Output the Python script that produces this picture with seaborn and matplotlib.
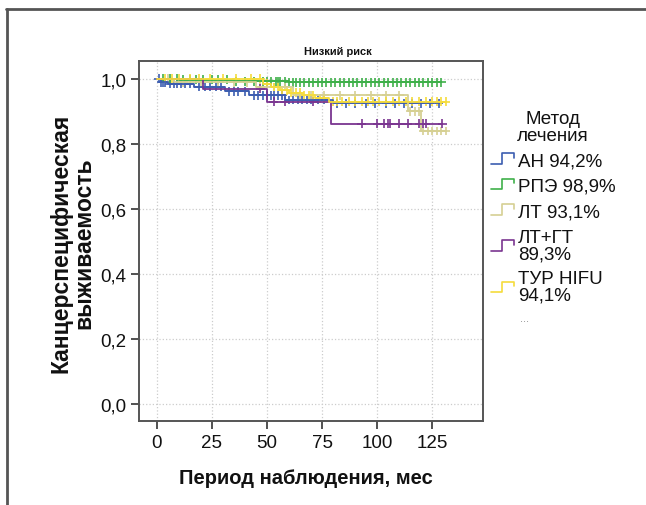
import numpy as np
import pandas as pd
import seaborn as sns
import matplotlib.pyplot as plt
from matplotlib.lines import Line2D
from matplotlib.legend_handler import HandlerBase

# Kaplan-Meier steps (time, survival) and censoring times for each group
groups = ['АН 94,2%', 'РПЭ 98,9%', 'ЛТ 93,1%', 'ЛТ+ГТ\n89,3%', 'ТУР HIFU\n94,1%']
colors = ['#3c5db0', '#3fb04a', '#d6d093', '#7a3590', '#f5dc3c']

an_t = [0, 2, 5, 17, 31, 42, 58, 80]
an_s = [1.0, 0.99, 0.985, 0.975, 0.962, 0.95, 0.935, 0.925]
an_c = [1, 2, 3, 4, 6, 8, 9, 11, 13, 15, 19, 22, 24, 27, 29, 33, 35, 37, 40, 44, 46,
        48, 50, 52, 53, 55, 57, 60, 62, 64, 66, 68, 70, 73, 76, 82, 86, 90, 95, 99,
        104, 108, 112, 116, 120, 124, 128]

rpe_t = [0, 10, 35, 60]
rpe_s = [1.0, 0.997, 0.993, 0.989]
rpe_c = [3, 6, 9, 12, 15, 18, 21, 25, 28, 32, 36, 40, 44, 48, 50, 52, 54, 55, 56, 58,
         60, 62, 63, 65, 67, 69, 71, 73, 75, 77, 79, 81, 83, 85, 87, 89, 91, 93, 95, 97,
         99, 101, 103, 105, 107, 109, 111, 113, 115, 117, 119, 121, 123, 125, 127, 129]

lt_t = [0, 8, 45, 62, 114, 120]
lt_s = [1.0, 0.99, 0.975, 0.95, 0.90, 0.84]
lt_c = [5, 12, 20, 28, 35, 41, 47, 53, 58, 65, 70, 76, 83, 90, 97, 104, 110, 115,
        117, 119, 121, 123, 125, 127, 129, 131]

ltgt_t = [0, 21, 50, 79]
ltgt_s = [1.0, 0.97, 0.93, 0.862]
ltgt_c = [47, 53, 58, 71, 93, 100, 103, 105, 106, 110, 114, 119, 121, 122, 129.5]

tur_t = [0, 48, 52, 56, 60, 66, 72, 78]
tur_s = [1.0, 0.985, 0.975, 0.965, 0.958, 0.95, 0.94, 0.93]
tur_c = [4, 7, 10, 15, 19, 24, 30, 36, 43, 47, 50, 53, 55, 57, 59, 61, 63, 65, 67, 69,
         71, 74, 76, 80, 82, 84, 87, 90, 93, 96, 98, 101, 104, 107, 110, 113, 116, 119,
         122, 125, 127, 129, 131]

steps = [(an_t, an_s, an_c), (rpe_t, rpe_s, rpe_c), (lt_t, lt_s, lt_c),
         (ltgt_t, ltgt_s, ltgt_c), (tur_t, tur_s, tur_c)]

curve_rows, cens_rows = [], []
for g, (t, s, c) in zip(groups, steps):
    end = max(max(c), t[-1])
    for ti, si in zip(t + [end], s + [s[-1]]):
        curve_rows.append((g, ti, si))
    idx = np.searchsorted(t, c, side='right') - 1
    for ci, i in zip(c, idx):
        cens_rows.append((g, ci, s[i]))
curves = pd.DataFrame(curve_rows, columns=['group', 'time', 'surv'])
cens = pd.DataFrame(cens_rows, columns=['group', 'time', 'surv'])

sns.set_style('white')
plt.rcParams['font.family'] = ['Liberation Sans', 'DejaVu Sans']
plt.rcParams['text.color'] = '#111111'

fig = plt.figure(figsize=(6.46, 5.06), dpi=100)
ax = fig.add_axes([0.2152, 0.166, 0.5325, 0.7115])

pal = dict(zip(groups, colors))
sns.lineplot(data=curves, x='time', y='surv', hue='group', palette=pal,
             estimator=None, sort=False, drawstyle='steps-post', lw=1.3,
             legend=False, ax=ax)
sns.scatterplot(data=cens, x='time', y='surv', hue='group', palette=pal,
                marker='+', s=40, linewidth=1.2, legend=False, ax=ax)

ax.set_xlim(-8, 148)
ax.set_ylim(-0.052, 1.055)
ax.set_xticks([0, 25, 50, 75, 100, 125])
ax.set_yticks([0, 0.2, 0.4, 0.6, 0.8, 1.0])
ax.set_yticklabels([f'{v:.1f}'.replace('.', ',') for v in ax.get_yticks()])
ax.tick_params(axis='both', direction='out', length=6, width=1.2, color='#333',
               labelsize=13.5, labelcolor='#111111', pad=3, left=True, bottom=True)
ax.grid(True, ls=':', color='#cccccc', lw=0.9)
for sp in ax.spines.values():
    sp.set_color('#555555')
    sp.set_linewidth(1.4)
ax.set_xlabel('')
ax.set_ylabel('')

fig.text(0.473, 0.055, 'Период наблюдения, мес', ha='center', va='center',
         fontsize=14.5, fontweight='bold')
fig.text(0.112, 0.52, 'Канцерспецифическая\nвыживаемость', ha='center', va='center',
         rotation=90, fontsize=16.5, fontweight='bold', multialignment='center',
         linespacing=1.0)
fig.text(0.523, 0.897, 'Низкий риск', ha='center', va='center', fontsize=8,
         fontweight='bold', family=['Liberation Sans Narrow', 'Liberation Sans'])


class StepHandler(HandlerBase):
    def create_artists(self, legend, orig_handle, xdescent, ydescent, width, height,
                       fontsize, trans):
        xs = np.array([0, 0.45, 0.45, 0.9, 0.9]) * width - xdescent
        ys = np.array([0.1, 0.1, 0.9, 0.9, 0.55]) * height - ydescent
        ln = Line2D(xs, ys, color=orig_handle.get_color(), lw=1.2, transform=trans)
        return [ln]


handles = [Line2D([], [], color=c) for c in colors]
leg = fig.legend(handles, groups, handler_map={Line2D: StepHandler()},
                 loc='upper left', bbox_to_anchor=(0.745, 0.80), frameon=False,
                 title='Метод\nлечения', fontsize=13.5, title_fontsize=13.5,
                 handlelength=1.4, handletextpad=0.05, labelspacing=0.45,
                 borderpad=0, alignment='center')
leg.get_title().set_multialignment('center')
leg.get_title().set_linespacing(1.0)
for txt in leg.get_texts():
    txt.set_linespacing(0.95)
fig.text(0.805, 1 - 322 / 506, '...', fontsize=8, color='#888888')

# outer frame (top and left edges)
fig.add_artist(Line2D([6 / 646, 1], [1 - 10 / 506] * 2, color='#555555', lw=2,
                      transform=fig.transFigure))
fig.add_artist(Line2D([7 / 646] * 2, [0, 1 - 10 / 506], color='#555555', lw=2,
                      transform=fig.transFigure))

fig.savefig('out.png', dpi=100)
